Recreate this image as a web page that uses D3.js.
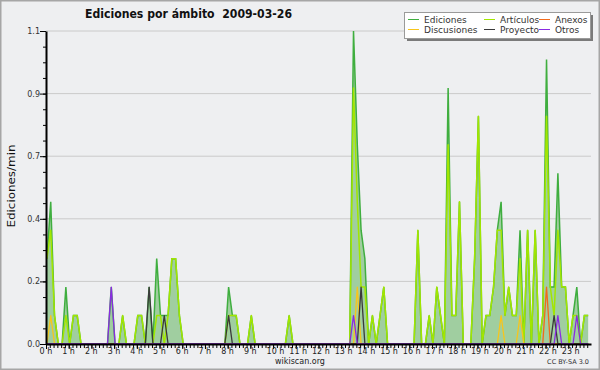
<!DOCTYPE html>
<html>
<head>
<meta charset="utf-8">
<script src="https://cdn.jsdelivr.net/npm/d3@7"></script>
<style>
  body { margin: 0; background: #eeeff1; }
  svg { display: block; font-family: "DejaVu Sans", sans-serif; }
</style>
</head>
<body>
<script>
// 10-minute bins, edits per minute
const ediciones = [
  0.3,0.5,0.1,0,0,0.2,0,0.1,0.1,0,0,0, 0,0,0,0,0,0.2,0,0,0.1,0,0,0,
  0.1,0.1,0,0.2,0,0.3,0.1,0.1,0.1,0.3,0.3,0.1, 0,0,0,0,0,0,0,0,0,0,0,0,
  0.2,0.1,0.1,0,0,0,0.1,0,0,0,0,0, 0,0,0,0,0.1,0,0,0,0,0,0,0,
  0,0,0,0,0,0,0,0,0,1.1,0.7,0.4, 0.3,0,0.1,0,0.1,0.2,0,0,0,0,0,0,
  0,0,0.4,0,0,0.1,0,0.2,0.1,0,0.9,0.1, 0.1,0.5,0,0,0,0.3,0.8,0,0.1,0.1,0.2,0.4,
  0.5,0.1,0.2,0.1,0.1,0.4,0,0.4,0,0.4,0,0.1, 1.0,0.2,0.2,0.6,0.2,0.2,0,0.1,0.2,0,0.1,0.1
];
const articulos = [
  0.3,0.4,0.1,0,0,0.1,0,0.1,0.1,0,0,0, 0,0,0,0,0,0,0,0,0.1,0,0,0,
  0.1,0.1,0,0,0,0.1,0.1,0,0.1,0.3,0.3,0.1, 0,0,0,0,0,0,0,0,0,0,0,0,
  0.1,0.1,0.1,0,0,0,0.1,0,0,0,0,0, 0,0,0,0,0.1,0,0,0,0,0,0,0,
  0,0,0,0,0,0,0,0,0,0.9,0.5,0.2, 0.2,0,0.1,0,0.1,0.2,0,0,0,0,0,0,
  0,0,0.4,0,0,0.1,0,0.2,0.1,0,0.7,0.1, 0.1,0.5,0,0,0,0.3,0.8,0,0.1,0.1,0.2,0.4,
  0.4,0.1,0.2,0.1,0.1,0.3,0,0.4,0,0.4,0,0.1, 0.8,0.2,0.1,0.4,0.2,0.2,0,0.1,0.1,0,0.1,0.1
];
const anexos = [
  0,0,0,0,0,0,0,0,0,0,0,0, 0,0,0,0,0,0,0,0,0,0,0,0,
  0,0,0,0,0,0,0,0,0,0,0,0, 0,0,0,0,0,0,0,0,0,0,0,0,
  0,0,0,0,0,0,0,0,0,0,0,0, 0,0,0,0,0,0,0,0,0,0,0,0,
  0,0,0,0,0,0,0,0,0,0,0,0, 0,0,0,0,0,0,0,0,0,0,0,0,
  0,0,0,0,0,0,0,0,0,0,0,0, 0,0,0,0,0,0,0,0,0,0,0,0,
  0,0,0,0,0,0,0,0,0,0,0,0, 0.2,0,0,0,0,0,0,0,0,0,0,0
];
const discusiones = [
  0,0.1,0,0,0,0,0,0,0,0,0,0, 0,0,0,0,0,0,0,0,0,0,0,0,
  0,0,0,0,0,0,0,0,0,0,0,0, 0,0,0,0,0,0,0,0,0,0,0,0,
  0,0,0,0,0,0,0,0,0,0,0,0, 0,0,0,0,0,0,0,0,0,0,0,0,
  0,0,0,0,0,0,0,0,0,0,0.2,0, 0,0,0,0,0,0,0,0,0,0,0,0,
  0,0,0,0,0,0,0,0,0,0,0,0, 0,0,0,0,0,0,0,0,0,0,0,0,
  0.1,0,0,0,0,0.1,0,0,0,0,0,0, 0,0,0,0,0,0,0,0,0,0,0,0
];
const proyecto = [
  0,0,0,0,0,0,0,0,0,0,0,0, 0,0,0,0,0,0,0,0,0,0,0,0,
  0,0,0,0.2,0,0,0,0.1,0,0,0,0, 0,0,0,0,0,0,0,0,0,0,0,0,
  0.1,0,0,0,0,0,0,0,0,0,0,0, 0,0,0,0,0,0,0,0,0,0,0,0,
  0,0,0,0,0,0,0,0,0,0,0,0.2, 0,0,0,0,0,0,0,0,0,0,0,0,
  0,0,0,0,0,0,0,0,0,0,0,0, 0,0,0,0,0,0,0,0,0,0,0,0,
  0,0,0,0,0,0,0,0,0,0,0,0, 0,0,0.1,0,0,0,0,0,0,0,0,0
];
const otros = [
  0,0,0,0,0,0,0,0,0,0,0,0, 0,0,0,0,0,0.2,0,0,0,0,0,0,
  0,0,0,0,0,0,0,0,0,0,0,0, 0,0,0,0,0,0,0,0,0,0,0,0,
  0,0,0,0,0,0,0,0,0,0,0,0, 0,0,0,0,0,0,0,0,0,0,0,0,
  0,0,0,0,0,0,0,0,0,0.1,0,0, 0,0,0,0,0,0,0,0,0,0,0,0,
  0,0,0,0,0,0,0,0,0,0,0,0, 0,0,0,0,0,0,0,0,0,0,0,0,
  0,0,0,0,0,0,0,0,0,0,0,0, 0,0,0,0.1,0,0,0,0,0.1,0,0,0
];

const hourLabels = ["0 h","1 h","2 h","3 h","4 h","5 h","6 h","7 h","8 h","9 h","10 h","11 h",
  "12 h","13 h","14 h","15 h","16 h","17 h","18 h","19 h","20 h","21 h","22 h","23 h"];
const yTicks = [0, 0.22, 0.44, 0.66, 0.88, 1.1];
const yTickLabels = ["0.0","0.2","0.4","0.7","0.9","1.1"];

const legendNames = ["Ediciones","Artículos","Anexos","Discusiones","Proyecto","Otros"];
const colors = {
  Ediciones: "#3fae3f", Artículos: "#a2e600", Anexos: "#f26a1b",
  Discusiones: "#f7c51c", Proyecto: "#3a3a3a", Otros: "#8a2be2"
};

const W = 600, H = 370;
const svg = d3.select("body").append("svg").attr("width", W).attr("height", H);

svg.append("rect")
  .attr("x", 0.5).attr("y", 0.5).attr("width", W - 1).attr("height", H - 1)
  .attr("fill", "#eeeff1").attr("stroke", "#a6a6a6").attr("stroke-width", 2);

const x = d3.scaleLinear().domain([0, 1440]).range([46, 591]);
const y = d3.scaleLinear().domain([0, 1.1]).range([344, 31]);

// grid
svg.append("g").selectAll("line")
  .data(yTicks.slice(1))
  .join("line")
  .attr("x1", 46).attr("x2", 591)
  .attr("y1", d => y(d)).attr("y2", d => y(d))
  .attr("stroke", "#cacaca").attr("stroke-width", 1);

const tMin = (d, i) => x(i * 10 + 2.5);

const area = d3.area().x(tMin).y0(y(0)).y1(d => y(d));
const line = d3.line().x(tMin).y(d => y(d));

svg.append("path").datum(ediciones)
  .attr("fill", "#a0cea0").attr("d", area);

svg.append("path").datum(ediciones)
  .attr("fill", "none").attr("stroke", colors.Ediciones).attr("stroke-width", 1.5)
  .attr("d", line);

const others = [
  [articulos, colors.Artículos, 1.5],
  [discusiones, colors.Discusiones, 1.3],
  [anexos, colors.Anexos, 1.3],
  [proyecto, colors.Proyecto, 1.3],
  [otros, colors.Otros, 1.3]
];
others.forEach(s => {
  svg.append("path").datum(s[0])
    .attr("fill", "none").attr("stroke", s[1]).attr("stroke-width", s[2])
    .attr("stroke-linejoin", "round")
    .attr("d", line);
});

// x axis: minor 10 min ticks, major hour ticks
svg.append("g")
  .attr("transform", "translate(0,344)")
  .call(d3.axisBottom(x).tickValues(d3.range(0, 1440, 10)).tickSize(4).tickSizeOuter(0).tickFormat(""))
  .call(g => g.select(".domain").remove())
  .call(g => g.selectAll("line").attr("stroke", "#000"));

const xAxis = svg.append("g")
  .attr("transform", "translate(0,344)")
  .call(d3.axisBottom(x).tickValues(d3.range(0, 1440, 60)).tickSize(5).tickSizeOuter(0)
    .tickFormat((d, i) => hourLabels[i]));
xAxis.select(".domain").attr("stroke", "#000").attr("stroke-width", 2);
xAxis.selectAll("line").attr("stroke", "#000");
xAxis.selectAll("text")
  .attr("font-size", 8).attr("font-family", "DejaVu Sans").attr("fill", "#222")
  .attr("text-anchor", "start").attr("x", -7).attr("y", 4).attr("dy", "0.71em");

// y axis
svg.append("g")
  .attr("transform", "translate(46,0)")
  .call(d3.axisLeft(y).tickValues(d3.range(0, 1.1, 0.055)).tickSize(3).tickSizeOuter(0).tickFormat(""))
  .call(g => g.select(".domain").remove())
  .call(g => g.selectAll("line").attr("stroke", "#000"));

const yAxis = svg.append("g")
  .attr("transform", "translate(46,0)")
  .call(d3.axisLeft(y).tickValues(yTicks).tickSize(6).tickSizeOuter(0)
    .tickFormat((d, i) => yTickLabels[i]));
yAxis.select(".domain").attr("stroke", "#000").attr("stroke-width", 2);
yAxis.selectAll("line").attr("stroke", "#000");
yAxis.selectAll("text")
  .attr("font-size", 8).attr("font-family", "DejaVu Sans").attr("fill", "#333").attr("x", -6);

// title and labels
svg.append("text")
  .attr("x", 85).attr("y", 18)
  .attr("font-size", 13).attr("font-weight", "bold").attr("fill", "#111")
  .attr("textLength", 207).attr("lengthAdjust", "spacingAndGlyphs")
  .style("white-space", "pre")
  .text("Ediciones por ámbito  2009-03-26");

svg.append("text")
  .attr("transform", "translate(15,186) rotate(-90)")
  .attr("text-anchor", "middle")
  .attr("font-size", 10.5).attr("fill", "#111")
  .attr("textLength", 83).attr("lengthAdjust", "spacingAndGlyphs")
  .text("Ediciones/min");

svg.append("text")
  .attr("x", 300).attr("y", 364).attr("text-anchor", "middle")
  .attr("font-size", 8).attr("fill", "#222")
  .text("wikiscan.org");

svg.append("text")
  .attr("x", 589).attr("y", 364).attr("text-anchor", "end")
  .attr("font-size", 6.5).attr("fill", "#333")
  .text("CC BY-SA 3.0");

// legend
const lg = svg.append("g");
lg.append("rect").attr("x", 407).attr("y", 15).attr("width", 186).attr("height", 26).attr("fill", "#7a7a7a");
lg.append("rect").attr("x", 404.5).attr("y", 12.5).attr("width", 186).attr("height", 26)
  .attr("fill", "#fff").attr("stroke", "#9a9a9a").attr("stroke-width", 1);

const colX = [408, 484, 539];
const rowY = [19.5, 29.5];
legendNames.forEach((name, i) => {
  const cx = colX[i % 3], cy = rowY[Math.floor(i / 3)];
  lg.append("line")
    .attr("x1", cx).attr("x2", cx + 11).attr("y1", cy).attr("y2", cy)
    .attr("stroke", colors[name]).attr("stroke-width", 1);
  lg.append("text")
    .attr("x", cx + 16).attr("y", cy + 3.3)
    .attr("font-size", 9).attr("fill", "#333")
    .text(name);
});
</script>
</body>
</html>
